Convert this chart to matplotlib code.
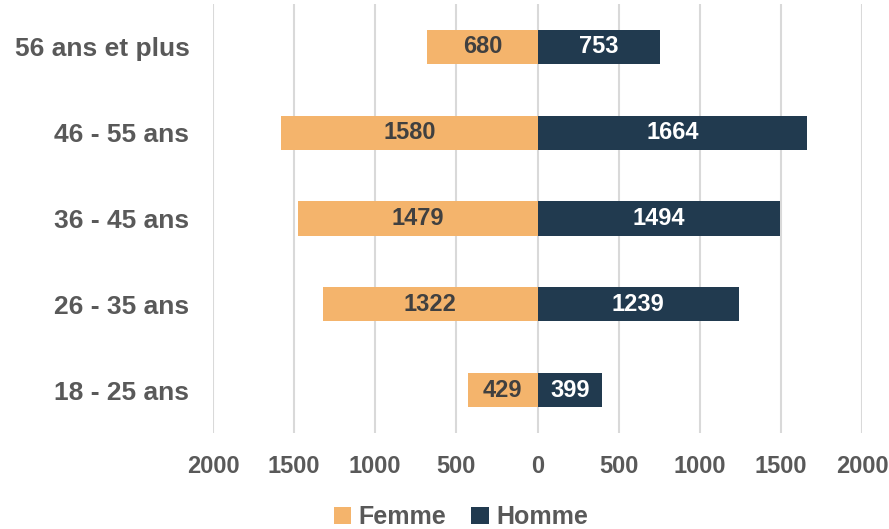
import numpy as np
import matplotlib.pyplot as plt

categories = ["56 ans et plus", "46 - 55 ans", "36 - 45 ans", "26 - 35 ans", "18 - 25 ans"]
femme = [680, 1580, 1479, 1322, 429]
homme = [753, 1664, 1494, 1239, 399]
xticks = [-2000, -1500, -1000, -500, 0, 500, 1000, 1500, 2000]

plt.rcParams['font.family'] = ['Liberation Sans', 'DejaVu Sans']
plt.rcParams['font.weight'] = 'bold'

c_femme = '#F4B46C'
c_homme = '#213A4F'

fig = plt.figure(figsize=(8.89, 5.29), dpi=100)
ax = fig.add_axes([213 / 889, 1 - 433 / 529, 649 / 889, 429 / 529])

y = np.arange(len(categories))
h = 0.4
bf = ax.barh(y, [-v for v in femme], height=h, color=c_femme, label='Femme', zorder=3)
bh = ax.barh(y, homme, height=h, color=c_homme, label='Homme', zorder=3)

for i in range(len(categories)):
    ax.text(-femme[i] / 2, y[i], str(femme[i]), ha='center', va='center',
            fontsize=17, fontweight='bold', color='#404040', zorder=4)
    ax.text(homme[i] / 2, y[i], str(homme[i]), ha='center', va='center',
            fontsize=17, fontweight='bold', color='white', zorder=4)

ax.set_xlim(-2000, 2000)
ax.set_ylim(len(categories) - 0.5, -0.5)
ax.set_xticks(xticks)
ax.set_xticklabels([str(abs(t)) for t in xticks])
ax.set_yticks(y)
ax.set_yticklabels(categories)
ax.tick_params(axis='x', length=0, pad=16, labelsize=17, labelcolor='#595959')
ax.tick_params(axis='y', length=0, pad=17, labelsize=19, labelcolor='#595959')
for lab in ax.get_xticklabels() + ax.get_yticklabels():
    lab.set_fontweight('bold')

ax.grid(axis='x', color='#D9D9D9', linewidth=1.5, zorder=0)
ax.set_axisbelow(True)
for s in ax.spines.values():
    s.set_visible(False)

leg = fig.legend(handles=[bf, bh], labels=['Femme', 'Homme'], loc='center',
                 bbox_to_anchor=(461 / 889, 1 - 517 / 529), ncol=2, frameon=False,
                 handlelength=0.7, handleheight=0.7, handletextpad=0.3,
                 columnspacing=1.0, borderpad=0,
                 prop={'size': 18, 'weight': 'bold'})
for t in leg.get_texts():
    t.set_color('#595959')

fig.savefig('out.png', dpi=100)
